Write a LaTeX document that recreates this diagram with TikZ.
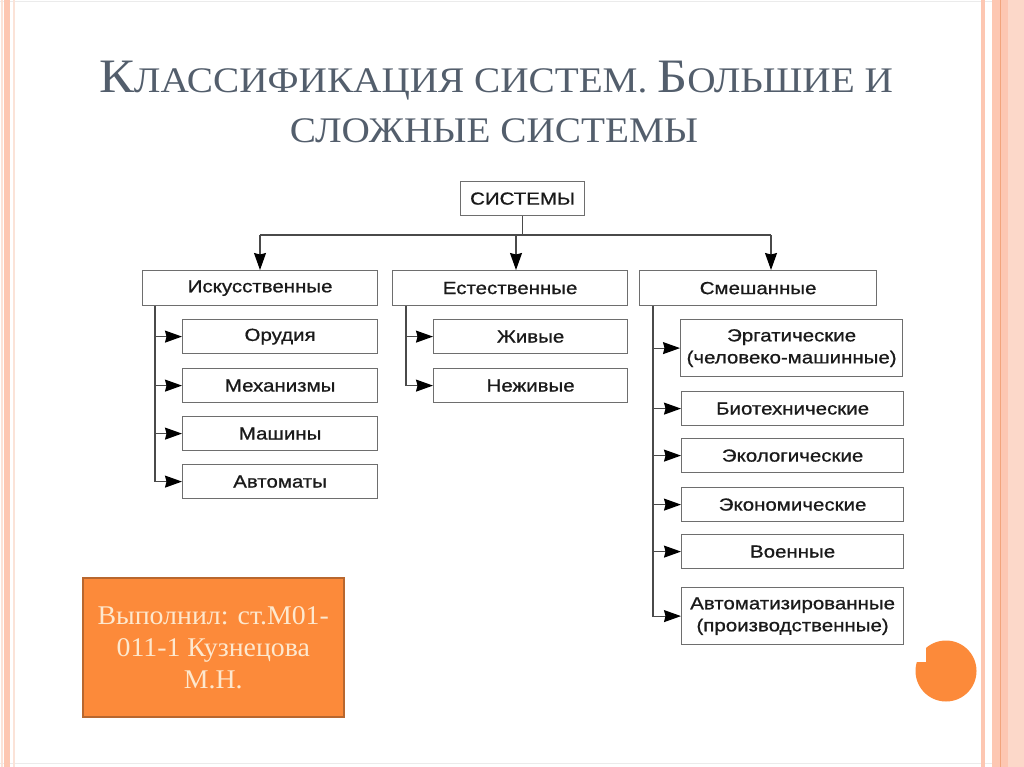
\documentclass[tikz,border=0pt]{standalone}
\usepackage{fontspec}
\setmainfont{Liberation Serif}
\newfontfamily\dfont[FakeStretch=1.17,FakeBold=0.8]{Liberation Sans}
\newfontfamily\tfont[FakeStretch=1.09]{Liberation Serif}
\newfontfamily\ofont[FakeStretch=1.03]{Liberation Serif}
\usetikzlibrary{arrows.meta,calc}
\definecolor{titlec}{HTML}{535E6C}
\definecolor{dtext}{HTML}{1A1A1A}
\definecolor{boxc}{HTML}{6E6E6E}
\definecolor{linec}{HTML}{4A4A4A}
\definecolor{orangec}{HTML}{FC8A3A}
\definecolor{obord}{HTML}{B8672F}
\definecolor{cream}{HTML}{FDE8CE}
\definecolor{stripec}{HTML}{FDC7B2}
\definecolor{stripeline}{HTML}{F2A47C}
\definecolor{faintc}{HTML}{FBE3D8}
\begin{document}
\begin{tikzpicture}[x=1pt,y=-1pt,
  box/.style={draw=boxc, line width=1.2pt, inner sep=0pt, anchor=north west,
    font=\dfont\fontsize{17.5}{22}\selectfont, text=dtext, align=center},
  con/.style={draw=linec, line width=1.2pt},
  arr/.style={con, -{Stealth[length=17pt,width=12pt,inset=1.5pt,black]}}]
% background and frame
\fill[white] (0,0) rectangle (1024,767);
\useasboundingbox (0,0) rectangle (1024,767);
\draw[black!8, line width=0.8pt] (0,1) -- (1024,1);
\draw[black!8, line width=0.8pt] (0,763) -- (1024,763);
\fill[faintc] (0.5,0) rectangle (2.5,767);
\fill[stripec] (3.5,0) rectangle (9.5,767);
\fill[faintc] (13,0) rectangle (15,767);
\fill[stripec] (981,0) rectangle (985,767);
\fill[stripec] (992,0) rectangle (1024,767);
\fill[faintc!60!stripec] (1008,0) rectangle (1024,767);
\draw[stripeline, line width=1.2pt] (1000.5,0) -- (1000.5,767);
% title
\node[anchor=base, text=titlec, inner sep=0pt] (t1) at (496,93)
  {\tfont{\fontsize{48}{52}\selectfont К}{\fontsize{36}{40}\selectfont ЛАССИФИКАЦИЯ СИСТЕМ. }{\fontsize{48}{52}\selectfont Б}{\fontsize{36}{40}\selectfont ОЛЬШИЕ И}};
\node[anchor=base, text=titlec, inner sep=0pt] (t2) at (494,143)
  {\tfont\fontsize{36}{40}\selectfont СЛОЖНЫЕ СИСТЕМЫ};
% diagram boxes
\node[box, minimum width=124pt, minimum height=34pt] (sys) at (460,181) {СИСТЕМЫ};
\node[box, minimum width=235pt, minimum height=35pt] (art) at (142,270) {Искусственные};
\node[box, minimum width=235pt, minimum height=35pt] (nat) at (392,270) {Естественные};
\node[box, minimum width=237pt, minimum height=35pt] (mix) at (639,270) {Смешанные};
\node[box, minimum width=195pt, minimum height=34pt] (a1) at (182,319) {Орудия};
\node[box, minimum width=195pt, minimum height=34pt] (a2) at (182,368) {Механизмы};
\node[box, minimum width=195pt, minimum height=34pt] (a3) at (182,416) {Машины};
\node[box, minimum width=195pt, minimum height=34pt] (a4) at (182,464) {Автоматы};
\node[box, minimum width=194pt, minimum height=34pt] (n1) at (433,319) {Живые};
\node[box, minimum width=194pt, minimum height=34pt] (n2) at (433,368) {Неживые};
\node[box, minimum width=222pt, minimum height=57pt] (m1) at (680,319) {Эргатические\\(человеко-машинные)};
\node[box, minimum width=222pt, minimum height=34pt] (m2) at (681,391) {Биотехнические};
\node[box, minimum width=222pt, minimum height=34pt] (m3) at (681,438) {Экологические};
\node[box, minimum width=222pt, minimum height=34pt] (m4) at (681,487) {Экономические};
\node[box, minimum width=222pt, minimum height=34pt] (m5) at (681,534) {Военные};
\node[box, minimum width=222pt, minimum height=57pt] (m6) at (681,587) {Автоматизированные\\(производственные)};
% bus
\coordinate (busL) at (260,235);
\coordinate (busM) at (516,235);
\coordinate (busR) at (771,235);
\draw[con] (sys.south) -- (sys.south |- busL);
\draw[con] (busL) -- (busR);
\draw[arr] (busL) -- (busL |- art.north);
\draw[arr] (busM) -- (busM |- nat.north);
\draw[arr] (busR) -- (busR |- mix.north);
% children of art
\coordinate (artS) at ($(art.south west)+(13,0)$);
\draw[arr] (artS) |- (a4.west);
\foreach \c in {a1,a2,a3} \draw[arr] (artS |- \c.west) -- (\c.west);
% children of nat
\coordinate (natS) at ($(nat.south west)+(14,0)$);
\draw[arr] (natS) |- (n2.west);
\draw[arr] (natS |- n1.west) -- (n1.west);
% children of mix
\coordinate (mixS) at ($(mix.south west)+(14,0)$);
\draw[arr] (mixS) |- (m6.west);
\foreach \c in {m1,m2,m3,m4,m5} \draw[arr] (mixS |- \c.west) -- (\c.west);
% author box
\node[draw=obord, fill=orangec, line width=1.5pt, minimum width=261pt, minimum height=139pt,
  anchor=north west, text=cream, align=center, inner sep=0pt,
  font=\ofont\fontsize{27}{32}\selectfont] (auth) at (82,577) {Выполнил: ст.М01-\\011-1 Кузнецова\\М.Н.};
% decorative dot
\fill[orangec] (946,671) circle (30.5);
\begin{scope}
  \clip (946,671) circle (31.5);
  \fill[white] (910,635) rectangle (926,662);
\end{scope}
\end{tikzpicture}
\end{document}
